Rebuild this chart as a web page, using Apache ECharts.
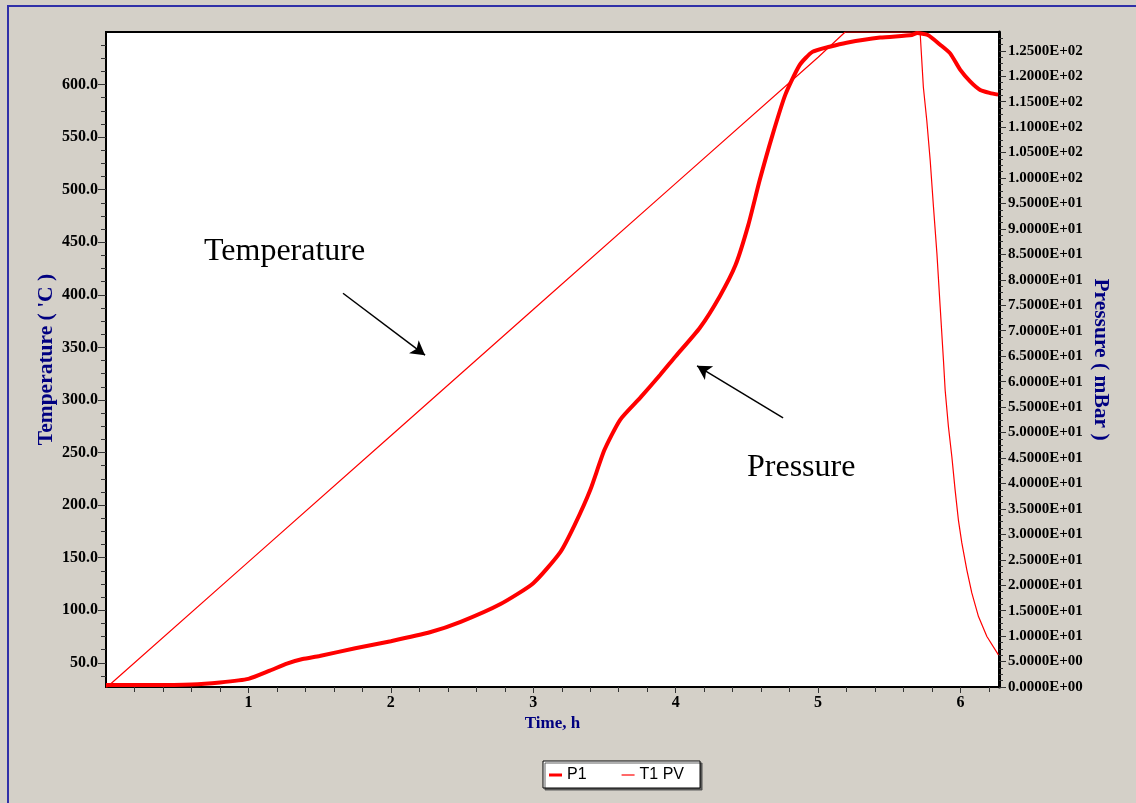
<!DOCTYPE html>
<html>
<head>
<meta charset="utf-8">
<script src="https://cdn.jsdelivr.net/npm/echarts@6/dist/echarts.min.js"></script>
<style>
html,body{margin:0;padding:0;background:#D4D0C8;}
#chart{width:1136px;height:803px;}
</style>
</head>
<body>
<div id="chart"></div>
<script>
// ---- data ----
const timeP = [0,0.3,0.6,0.8,1.0,1.15,1.27,1.38,1.5,1.75,2.0,2.28,2.49,2.77,3.0,3.19,3.29,3.40,3.50,3.61,3.75,3.89,4.0,4.17,4.31,4.42,4.51,4.59,4.68,4.77,4.87,4.96,5.08,5.20,5.435,5.66,5.695,5.77,5.857,5.927,5.997,6.067,6.138,6.208,6.264];
const presP = [0.4,0.4,0.5,0.9,1.6,3.2,4.6,5.5,6.1,7.6,9.0,10.8,12.8,16.3,20.4,26.5,31.8,38.7,46.6,52.5,56.8,61.3,65.0,70.6,76.8,82.9,90.8,99.6,108.5,116.4,122.2,124.8,125.8,126.6,127.6,128.1,128.5,128.1,126.2,124.5,121.3,119.0,117.3,116.7,116.4];
const timeT = [0,1,2,3,4,5,5.19,5.716,5.739,5.763,5.787,5.810,5.834,5.857,5.880,5.892,5.915,5.939,5.962,5.985,6.009,6.044,6.079,6.126,6.185,6.266];
const tempT = [26,146,266,386,506,626,650,650,597.5,565.8,527.8,483.5,439.5,388.5,337.8,309.3,274.5,246,214.3,185.8,164,138.3,116.5,94,75,57.6];

const xTickLabels = [1,2,3,4,5,6];
const leftTickLabels = [50,100,150,200,250,300,350,400,450,500,550,600];
const rightTickLabels = [0,5,10,15,20,25,30,35,40,45,50,55,60,65,70,75,80,85,90,95,100,105,110,115,120,125];

// annotation arrows (data coordinates)
const tempArrow = [[1.664, 401.5], [2.240, 342.6]];
const presArrow = [[4.754, 52.9], [4.150, 63.1]];

// ---- axis ranges ----
const X_MIN = 0, X_MAX = 6.27;
const L_MIN = 27, L_MAX = 650;
const R_MIN = 0, R_MAX = 128.7;

const xMinor = [];
for (let i = 1; i <= 31; i++) { const v = +(i * 0.2).toFixed(2); if (Math.abs(v - Math.round(v)) > 1e-6 && v < X_MAX) xMinor.push(v); }
const leftMinor = [];
for (let v = 37.5; v < L_MAX; v += 12.5) { if (v % 50 !== 0) leftMinor.push(v); }
const rightMinor = [];
for (let v = 1.25; v < R_MAX; v += 1.25) { if (Math.abs(v / 5 - Math.round(v / 5)) > 1e-6) rightMinor.push(+v.toFixed(2)); }

function sci(v) {
  if (v === 0) return '0.0000E+00';
  const e = Math.floor(Math.log10(v) + 1e-9);
  const m = v / Math.pow(10, e);
  const ae = Math.abs(e);
  return m.toFixed(4) + 'E' + (e >= 0 ? '+' : '-') + (ae < 10 ? '0' : '') + ae;
}

const SERIF = "'Liberation Serif', 'Times New Roman', serif";
const RED = '#ff0000';
const tickColor = '#333';

const chart = echarts.init(document.getElementById('chart'), null, {renderer: 'canvas'});
const option = {
  animation: false,
  backgroundColor: '#D4D0C8',
  graphic: [
    {type: 'rect', shape: {x: 7, y: 5, width: 1129, height: 2}, style: {fill: '#3030a8'}, silent: true},
    {type: 'rect', shape: {x: 7, y: 5, width: 2, height: 798}, style: {fill: '#3030a8'}, silent: true},
    {type: 'text', x: 204, y: 252, style: {text: 'Temperature', font: "32px 'Liberation Serif', serif", fill: '#000', textVerticalAlign: 'middle'}, silent: true},
    {type: 'text', x: 747, y: 468, style: {text: 'Pressure', font: "32px 'Liberation Serif', serif", fill: '#000', textVerticalAlign: 'middle'}, silent: true}
  ],
  grid: {left: 106, right: 137, top: 32, bottom: 116, show: true, backgroundColor: '#ffffff', borderColor: '#000', borderWidth: 2, containLabel: false},
  legend: {
    left: 543, top: 761,
    orient: 'horizontal',
    backgroundColor: '#ffffff', borderColor: '#000', borderWidth: 1,
    shadowColor: 'rgba(80,80,80,0.9)', shadowOffsetX: 2, shadowOffsetY: 2, shadowBlur: 0,
    padding: [6, 16, 5, 6],
    itemGap: 35, itemWidth: 13, itemHeight: 14,
    itemStyle: {borderWidth: 0},
    textStyle: {fontFamily: "'Liberation Sans', Arial, sans-serif", fontSize: 16, color: '#000'},
    selectedMode: false,
    data: [
      {name: 'P1', icon: 'path://M0 0H13V3H0Z'},
      {name: 'T1 PV', icon: 'path://M0 0H11V1H0Z'}
    ]
  },
  xAxis: [
    {
      type: 'value', min: X_MIN, max: X_MAX, position: 'bottom',
      axisLine: {show: true, onZero: false, lineStyle: {color: '#000', width: 2}},
      axisTick: {show: true, customValues: xTickLabels, length: 6, lineStyle: {color: tickColor}},
      axisLabel: {customValues: xTickLabels, margin: 8, color: '#000', fontFamily: SERIF, fontWeight: 'bold', fontSize: 16, formatter: v => String(v)},
      splitLine: {show: false},
      name: 'Time, h', nameLocation: 'middle', nameGap: 28, nameMoveOverlap: false,
      nameTextStyle: {color: '#000080', fontFamily: SERIF, fontWeight: 'bold', fontSize: 17}
    },
    {
      type: 'value', min: X_MIN, max: X_MAX, position: 'bottom',
      axisLine: {show: false, onZero: false},
      axisTick: {show: true, customValues: xMinor, length: 5, lineStyle: {color: tickColor}},
      axisLabel: {show: false}, splitLine: {show: false}
    }
  ],
  yAxis: [
    {
      type: 'value', min: L_MIN, max: L_MAX, position: 'left',
      axisLine: {show: true, onZero: false, lineStyle: {color: '#000', width: 2}},
      axisTick: {show: true, customValues: leftTickLabels, length: 8, lineStyle: {color: tickColor}},
      axisLabel: {customValues: leftTickLabels, margin: 8, color: '#000', fontFamily: SERIF, fontWeight: 'bold', fontSize: 16, formatter: v => v.toFixed(1)},
      splitLine: {show: false},
      name: "Temperature ( 'C )", nameLocation: 'middle', nameRotate: 90, nameGap: 49, nameMoveOverlap: false,
      nameTextStyle: {color: '#000080', fontFamily: SERIF, fontWeight: 'bold', fontSize: 21.5}
    },
    {
      type: 'value', min: R_MIN, max: R_MAX, position: 'right',
      axisLine: {show: true, onZero: false, lineStyle: {color: '#000', width: 3}},
      axisTick: {show: true, customValues: rightTickLabels, length: 7, lineStyle: {color: tickColor}},
      axisLabel: {customValues: rightTickLabels, margin: 9, color: '#000', fontFamily: SERIF, fontWeight: 'bold', fontSize: 15, formatter: v => sci(v)},
      splitLine: {show: false},
      name: 'Pressure ( mBar )', nameLocation: 'middle', nameRotate: -90, nameGap: 91, nameMoveOverlap: false,
      nameTextStyle: {color: '#000080', fontFamily: SERIF, fontWeight: 'bold', fontSize: 21.5}
    },
    {
      type: 'value', min: L_MIN, max: L_MAX, position: 'left',
      axisLine: {show: false, onZero: false},
      axisTick: {show: true, customValues: leftMinor, length: 5, lineStyle: {color: tickColor}},
      axisLabel: {show: false}, splitLine: {show: false}
    },
    {
      type: 'value', min: R_MIN, max: R_MAX, position: 'right',
      axisLine: {show: false, onZero: false},
      axisTick: {show: true, customValues: rightMinor, length: 4, lineStyle: {color: tickColor}},
      axisLabel: {show: false}, splitLine: {show: false}
    }
  ],
  series: [
    {
      name: 'P1', type: 'line', xAxisIndex: 0, yAxisIndex: 1,
      data: timeP.map((t, i) => [t, presP[i]]),
      symbol: 'none', smooth: 0.2,
      lineStyle: {color: RED, width: 4},
      itemStyle: {color: RED},
      markLine: {
        silent: true, animation: false,
        symbol: ['none', 'arrow'], symbolSize: [12, 14],
        label: {show: false},
        lineStyle: {color: '#000', width: 1.5, type: 'solid'},
        itemStyle: {color: '#000'},
        data: [[{coord: presArrow[0]}, {coord: presArrow[1]}]]
      }
    },
    {
      name: 'T1 PV', type: 'line', xAxisIndex: 0, yAxisIndex: 0,
      data: timeT.map((t, i) => [t, tempT[i]]),
      symbol: 'none',
      lineStyle: {color: RED, width: 1.2},
      itemStyle: {color: RED},
      markLine: {
        silent: true, animation: false,
        symbol: ['none', 'arrow'], symbolSize: [12, 14],
        label: {show: false},
        lineStyle: {color: '#000', width: 1.5, type: 'solid'},
        itemStyle: {color: '#000'},
        data: [[{coord: tempArrow[0]}, {coord: tempArrow[1]}]]
      }
    }
  ]
};
chart.setOption(option);
</script>
</body>
</html>
